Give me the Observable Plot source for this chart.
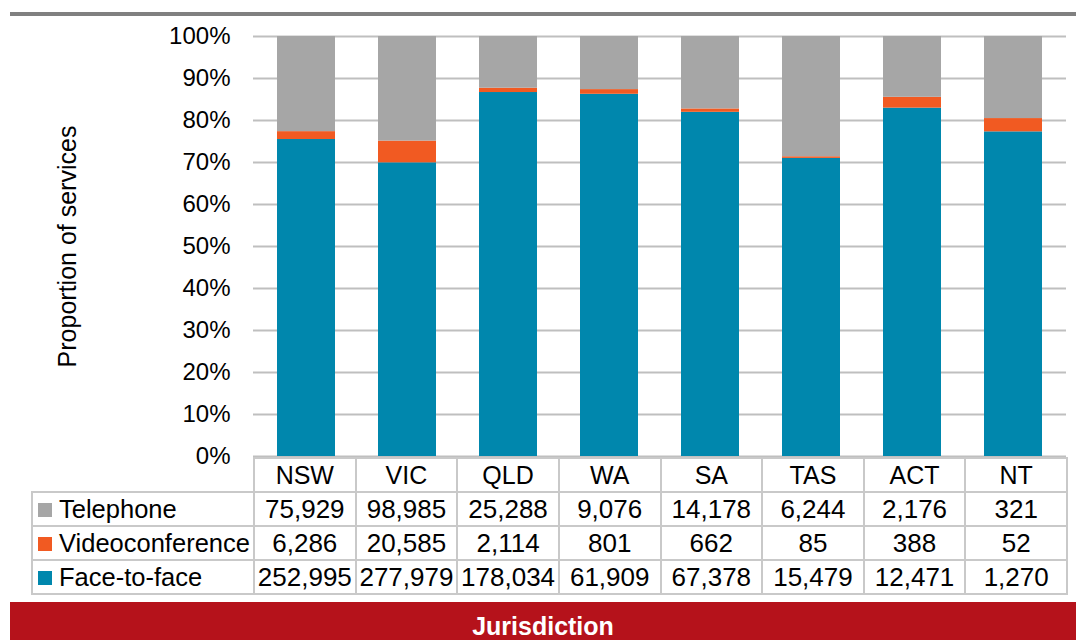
<!DOCTYPE html>
<html>
<head>
<meta charset="utf-8">
<script src="https://cdn.jsdelivr.net/npm/d3@7"></script>
<script src="https://cdn.jsdelivr.net/npm/@observablehq/plot@0.6"></script>
<style>
  html, body { margin: 0; padding: 0; background: #fff; }
  #wrap { position: relative; width: 1076px; height: 640px; overflow: hidden; font-family: "Liberation Sans", Arial, sans-serif; }
  #topline { position: absolute; left: 10px; top: 12px; width: 1066px; height: 4px; background: #808080; }
  #chart { position: absolute; left: 0; top: 0; }
  #tbl { position: absolute; left: 31px; top: 457px; border-collapse: collapse; table-layout: fixed; font-size: 26px; color: #000; }
  #tbl td { border: 2px solid #C9C9C9; height: 32px; padding: 0; text-align: center; white-space: nowrap; line-height: 32px; }
  #tbl tr.hdr td { font-size: 25px; }
  #tbl td.blank { border: none; }
  #tbl td.leg { text-align: left; padding-left: 5px; font-size: 25.5px; }
  .sw { display: inline-block; width: 14px; height: 14px; margin-right: 7px; vertical-align: 1px; }
  #banner { position: absolute; left: 10px; top: 602px; width: 1066px; height: 38px; background: #B5121B; color: #fff; font-weight: bold; font-size: 25px; text-align: center; line-height: 48px; }
</style>
</head>
<body>
<div id="wrap">
  <div id="chart"></div>
  <div id="topline"></div>
  <table id="tbl"></table>
  <div id="banner"></div>
</div>
<script>
const jurisdictions = ["NSW", "VIC", "QLD", "WA", "SA", "TAS", "ACT", "NT"];
const seriesNames = ["Telephone", "Videoconference", "Face-to-face"];
const telephone = [75929, 98985, 25288, 9076, 14178, 6244, 2176, 321];
const videoconference = [6286, 20585, 2114, 801, 662, 85, 388, 52];
const faceToFace = [252995, 277979, 178034, 61909, 67378, 15479, 12471, 1270];
const seriesColors = ["#A6A6A6", "#F15A22", "#0087AD"];
const yTicks = [0, 0.1, 0.2, 0.3, 0.4, 0.5, 0.6, 0.7, 0.8, 0.9, 1.0];
const yLabel = ["Proportion of services"];
const xTitle = "Jurisdiction";

const seriesValues = [telephone, videoconference, faceToFace];
// stack order bottom -> top: Face-to-face, Videoconference, Telephone
const stackOrder = ["Face-to-face", "Videoconference", "Telephone"];
const rows = [];
for (const s of stackOrder) {
  const vals = seriesValues[seriesNames.indexOf(s)];
  jurisdictions.forEach((j, i) => rows.push({jurisdiction: j, series: s, value: vals[i]}));
}

const chart = Plot.plot({
  width: 1076,
  height: 480,
  marginLeft: 253,
  marginRight: 10,
  marginTop: 36,
  marginBottom: 24,
  style: {fontFamily: "'Liberation Sans', Arial, sans-serif", fontSize: "24px", color: "#000", background: "transparent", overflow: "visible"},
  x: {domain: jurisdictions, paddingInner: 0.43, paddingOuter: 0.215, axis: null},
  y: {domain: [0, 1], ticks: yTicks, tickFormat: d => Math.round(d * 100) + "%", tickSize: 0, tickPadding: 23, label: null},
  color: {domain: seriesNames, range: seriesColors},
  marks: [
    Plot.ruleY(yTicks, {stroke: "#BFBFBF", strokeWidth: 2}),
    Plot.barY(rows, Plot.stackY({
      x: "jurisdiction", y: "value", fill: "series", offset: "normalize",
      order: stackOrder
    })),
    Plot.text(yLabel, {frameAnchor: "left", textAnchor: "middle", lineAnchor: "middle", dx: -186, rotate: -90, fontSize: 25, fill: "#000"})
  ]
});
document.getElementById("chart").appendChild(chart);

// Data table below the chart
const tbl = document.getElementById("tbl");
const colgroup = document.createElement("colgroup");
const c0 = document.createElement("col"); c0.style.width = "222px"; colgroup.appendChild(c0);
jurisdictions.forEach(() => { const c = document.createElement("col"); c.style.width = (813 / 8) + "px"; colgroup.appendChild(c); });
tbl.appendChild(colgroup);
const hdr = document.createElement("tr"); hdr.className = "hdr";
const blank = document.createElement("td"); blank.className = "blank"; hdr.appendChild(blank);
jurisdictions.forEach(j => { const td = document.createElement("td"); td.textContent = j; hdr.appendChild(td); });
tbl.appendChild(hdr);
const fmt = d3.format(",");
seriesNames.forEach((s, k) => {
  const tr = document.createElement("tr");
  const lg = document.createElement("td"); lg.className = "leg";
  const sw = document.createElement("span"); sw.className = "sw"; sw.style.background = seriesColors[k];
  lg.appendChild(sw); lg.appendChild(document.createTextNode(s));
  tr.appendChild(lg);
  seriesValues[k].forEach(v => { const td = document.createElement("td"); td.textContent = fmt(v); tr.appendChild(td); });
  tbl.appendChild(tr);
});
document.getElementById("banner").textContent = xTitle;
</script>
</body>
</html>
